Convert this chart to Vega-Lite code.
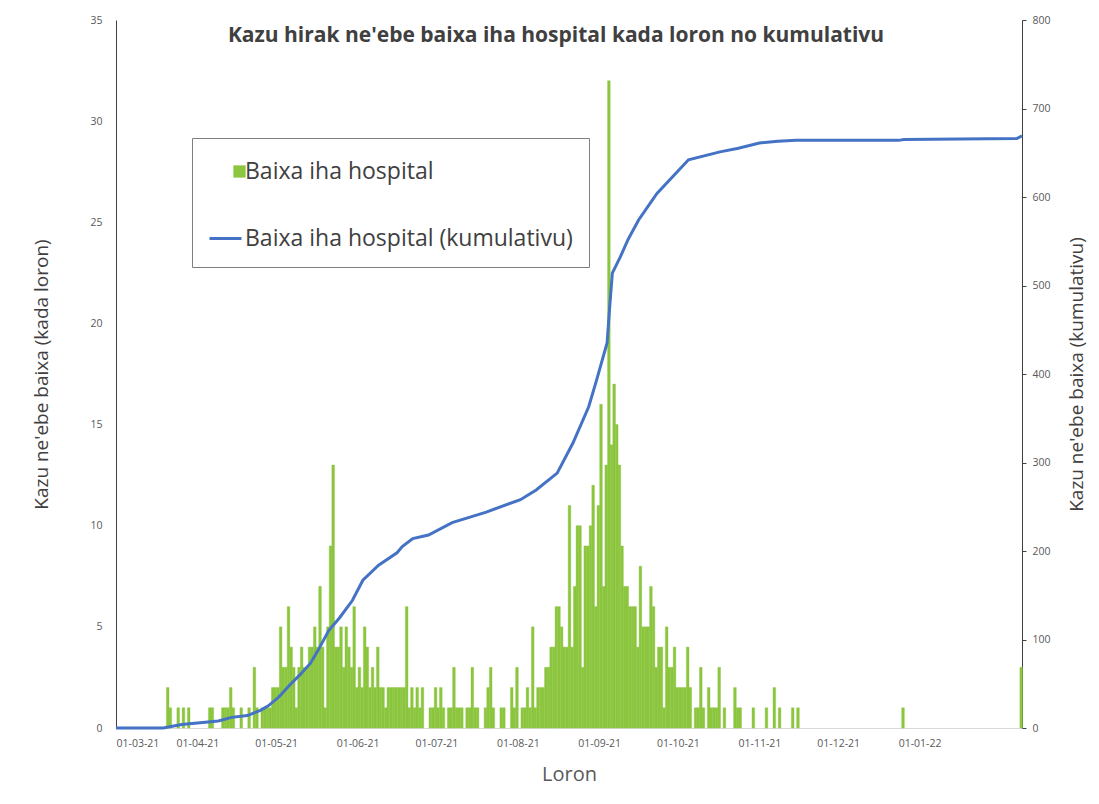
{
  "$schema": "https://vega.github.io/schema/vega-lite/v6.json",
  "width": 906,
  "height": 708,
  "autosize": "none",
  "padding": {"left": 116, "top": 20, "right": 77, "bottom": 76},
  "background": "white",
  "config": {"view": {"stroke": null}, "font": "Open Sans"},
  "title": {
    "text": "Kazu hirak ne'ebe baixa iha hospital kada loron no kumulativu",
    "fontSize": 21, "fontWeight": "bold", "color": "#404040", "font": "Open Sans",
    "anchor": "middle", "frame": "group", "offset": -31, "dx": -13
  },
  "datasets": {
    "daily": [
      {"date": "2021-03-20", "n": 2}, {"date": "2021-03-21", "n": 1}, {"date": "2021-03-24", "n": 1}, {"date": "2021-03-26", "n": 1}, {"date": "2021-03-28", "n": 1},
      {"date": "2021-04-05", "n": 1}, {"date": "2021-04-06", "n": 1}, {"date": "2021-04-10", "n": 1}, {"date": "2021-04-11", "n": 1}, {"date": "2021-04-12", "n": 1},
      {"date": "2021-04-13", "n": 2}, {"date": "2021-04-14", "n": 1}, {"date": "2021-04-17", "n": 1}, {"date": "2021-04-20", "n": 1}, {"date": "2021-04-22", "n": 3},
      {"date": "2021-04-23", "n": 1}, {"date": "2021-04-25", "n": 1}, {"date": "2021-04-26", "n": 1}, {"date": "2021-04-27", "n": 1}, {"date": "2021-04-28", "n": 1},
      {"date": "2021-04-29", "n": 2}, {"date": "2021-04-30", "n": 2},
      {"date": "2021-05-01", "n": 2}, {"date": "2021-05-02", "n": 5}, {"date": "2021-05-03", "n": 3}, {"date": "2021-05-04", "n": 3}, {"date": "2021-05-05", "n": 6},
      {"date": "2021-05-06", "n": 4}, {"date": "2021-05-07", "n": 3}, {"date": "2021-05-08", "n": 1}, {"date": "2021-05-09", "n": 3}, {"date": "2021-05-10", "n": 4},
      {"date": "2021-05-11", "n": 3}, {"date": "2021-05-12", "n": 3}, {"date": "2021-05-13", "n": 4}, {"date": "2021-05-14", "n": 4}, {"date": "2021-05-15", "n": 5},
      {"date": "2021-05-16", "n": 4}, {"date": "2021-05-17", "n": 7}, {"date": "2021-05-18", "n": 4}, {"date": "2021-05-19", "n": 1}, {"date": "2021-05-20", "n": 5},
      {"date": "2021-05-21", "n": 9}, {"date": "2021-05-22", "n": 13}, {"date": "2021-05-23", "n": 4}, {"date": "2021-05-24", "n": 4}, {"date": "2021-05-25", "n": 5},
      {"date": "2021-05-26", "n": 3}, {"date": "2021-05-27", "n": 5}, {"date": "2021-05-28", "n": 4}, {"date": "2021-05-29", "n": 3}, {"date": "2021-05-30", "n": 6},
      {"date": "2021-05-31", "n": 2},
      {"date": "2021-06-01", "n": 3}, {"date": "2021-06-02", "n": 2}, {"date": "2021-06-03", "n": 5}, {"date": "2021-06-04", "n": 4}, {"date": "2021-06-05", "n": 2},
      {"date": "2021-06-06", "n": 3}, {"date": "2021-06-07", "n": 2}, {"date": "2021-06-08", "n": 4}, {"date": "2021-06-09", "n": 2}, {"date": "2021-06-10", "n": 2},
      {"date": "2021-06-11", "n": 1}, {"date": "2021-06-12", "n": 2}, {"date": "2021-06-13", "n": 2}, {"date": "2021-06-14", "n": 2}, {"date": "2021-06-15", "n": 2},
      {"date": "2021-06-16", "n": 2}, {"date": "2021-06-17", "n": 2}, {"date": "2021-06-18", "n": 2}, {"date": "2021-06-19", "n": 6}, {"date": "2021-06-20", "n": 1},
      {"date": "2021-06-21", "n": 2}, {"date": "2021-06-22", "n": 1}, {"date": "2021-06-23", "n": 2}, {"date": "2021-06-24", "n": 1}, {"date": "2021-06-25", "n": 2},
      {"date": "2021-06-28", "n": 1}, {"date": "2021-06-29", "n": 1}, {"date": "2021-06-30", "n": 2},
      {"date": "2021-07-01", "n": 1}, {"date": "2021-07-02", "n": 2}, {"date": "2021-07-03", "n": 1}, {"date": "2021-07-05", "n": 1}, {"date": "2021-07-06", "n": 1},
      {"date": "2021-07-07", "n": 3}, {"date": "2021-07-08", "n": 1}, {"date": "2021-07-09", "n": 1}, {"date": "2021-07-10", "n": 1}, {"date": "2021-07-12", "n": 1},
      {"date": "2021-07-13", "n": 1}, {"date": "2021-07-14", "n": 3}, {"date": "2021-07-15", "n": 1}, {"date": "2021-07-16", "n": 1}, {"date": "2021-07-19", "n": 1},
      {"date": "2021-07-20", "n": 2}, {"date": "2021-07-21", "n": 3}, {"date": "2021-07-22", "n": 1}, {"date": "2021-07-25", "n": 1}, {"date": "2021-07-26", "n": 1},
      {"date": "2021-07-29", "n": 2}, {"date": "2021-07-30", "n": 1}, {"date": "2021-07-31", "n": 3},
      {"date": "2021-08-02", "n": 1}, {"date": "2021-08-03", "n": 1}, {"date": "2021-08-04", "n": 2}, {"date": "2021-08-05", "n": 1}, {"date": "2021-08-06", "n": 5},
      {"date": "2021-08-07", "n": 1}, {"date": "2021-08-08", "n": 2}, {"date": "2021-08-09", "n": 2}, {"date": "2021-08-10", "n": 2}, {"date": "2021-08-11", "n": 3},
      {"date": "2021-08-12", "n": 3}, {"date": "2021-08-13", "n": 4}, {"date": "2021-08-14", "n": 4}, {"date": "2021-08-15", "n": 6}, {"date": "2021-08-16", "n": 6},
      {"date": "2021-08-17", "n": 5}, {"date": "2021-08-18", "n": 4}, {"date": "2021-08-19", "n": 4}, {"date": "2021-08-20", "n": 11}, {"date": "2021-08-21", "n": 4},
      {"date": "2021-08-22", "n": 7}, {"date": "2021-08-23", "n": 10}, {"date": "2021-08-24", "n": 10}, {"date": "2021-08-25", "n": 3}, {"date": "2021-08-26", "n": 9},
      {"date": "2021-08-27", "n": 9}, {"date": "2021-08-28", "n": 10}, {"date": "2021-08-29", "n": 12}, {"date": "2021-08-30", "n": 6}, {"date": "2021-08-31", "n": 11},
      {"date": "2021-09-01", "n": 16}, {"date": "2021-09-02", "n": 7}, {"date": "2021-09-03", "n": 13}, {"date": "2021-09-04", "n": 32}, {"date": "2021-09-05", "n": 14},
      {"date": "2021-09-06", "n": 17}, {"date": "2021-09-07", "n": 15}, {"date": "2021-09-08", "n": 13}, {"date": "2021-09-09", "n": 9}, {"date": "2021-09-10", "n": 7},
      {"date": "2021-09-11", "n": 7}, {"date": "2021-09-12", "n": 6}, {"date": "2021-09-13", "n": 6}, {"date": "2021-09-14", "n": 6}, {"date": "2021-09-15", "n": 4},
      {"date": "2021-09-16", "n": 8}, {"date": "2021-09-17", "n": 5}, {"date": "2021-09-18", "n": 5}, {"date": "2021-09-19", "n": 5}, {"date": "2021-09-20", "n": 7},
      {"date": "2021-09-21", "n": 6}, {"date": "2021-09-22", "n": 3}, {"date": "2021-09-23", "n": 4}, {"date": "2021-09-24", "n": 4}, {"date": "2021-09-25", "n": 1},
      {"date": "2021-09-26", "n": 5}, {"date": "2021-09-27", "n": 3}, {"date": "2021-09-28", "n": 3}, {"date": "2021-09-29", "n": 4}, {"date": "2021-09-30", "n": 2},
      {"date": "2021-10-01", "n": 2}, {"date": "2021-10-02", "n": 2}, {"date": "2021-10-03", "n": 2}, {"date": "2021-10-04", "n": 4}, {"date": "2021-10-05", "n": 2},
      {"date": "2021-10-07", "n": 1}, {"date": "2021-10-08", "n": 1}, {"date": "2021-10-09", "n": 3}, {"date": "2021-10-10", "n": 1}, {"date": "2021-10-12", "n": 2},
      {"date": "2021-10-13", "n": 1}, {"date": "2021-10-14", "n": 1}, {"date": "2021-10-15", "n": 1}, {"date": "2021-10-16", "n": 3}, {"date": "2021-10-18", "n": 1},
      {"date": "2021-10-22", "n": 2}, {"date": "2021-10-23", "n": 1}, {"date": "2021-10-24", "n": 1}, {"date": "2021-10-29", "n": 1},
      {"date": "2021-11-03", "n": 1}, {"date": "2021-11-06", "n": 2}, {"date": "2021-11-08", "n": 1}, {"date": "2021-11-13", "n": 1}, {"date": "2021-11-15", "n": 1},
      {"date": "2021-12-25", "n": 1},
      {"date": "2022-02-08", "n": 3}
    ],
    "cumulative": [
      {"date": "2021-03-01", "cum": 0}, {"date": "2021-03-19", "cum": 0}, {"date": "2021-03-26", "cum": 4}, {"date": "2021-04-02", "cum": 6},
      {"date": "2021-04-09", "cum": 8}, {"date": "2021-04-14", "cum": 12}, {"date": "2021-04-20", "cum": 14}, {"date": "2021-04-25", "cum": 20},
      {"date": "2021-04-28", "cum": 25}, {"date": "2021-05-02", "cum": 35}, {"date": "2021-05-06", "cum": 48}, {"date": "2021-05-10", "cum": 60},
      {"date": "2021-05-14", "cum": 73}, {"date": "2021-05-17", "cum": 88}, {"date": "2021-05-21", "cum": 110}, {"date": "2021-05-25", "cum": 124},
      {"date": "2021-05-30", "cum": 144}, {"date": "2021-06-03", "cum": 167}, {"date": "2021-06-09", "cum": 184}, {"date": "2021-06-16", "cum": 198},
      {"date": "2021-06-18", "cum": 205}, {"date": "2021-06-22", "cum": 214}, {"date": "2021-06-28", "cum": 218}, {"date": "2021-07-07", "cum": 232},
      {"date": "2021-07-20", "cum": 244}, {"date": "2021-08-02", "cum": 258}, {"date": "2021-08-08", "cum": 269}, {"date": "2021-08-16", "cum": 288},
      {"date": "2021-08-22", "cum": 322}, {"date": "2021-08-28", "cum": 363}, {"date": "2021-08-31", "cum": 393}, {"date": "2021-09-04", "cum": 435},
      {"date": "2021-09-05", "cum": 476}, {"date": "2021-09-06", "cum": 514}, {"date": "2021-09-09", "cum": 532}, {"date": "2021-09-12", "cum": 552},
      {"date": "2021-09-16", "cum": 574}, {"date": "2021-09-23", "cum": 604}, {"date": "2021-10-05", "cum": 642}, {"date": "2021-10-17", "cum": 651},
      {"date": "2021-10-24", "cum": 655}, {"date": "2021-11-01", "cum": 661}, {"date": "2021-11-08", "cum": 663}, {"date": "2021-11-15", "cum": 664},
      {"date": "2021-12-24", "cum": 664}, {"date": "2021-12-26", "cum": 665}, {"date": "2022-02-07", "cum": 666}, {"date": "2022-02-09", "cum": 669}
    ]
  },
  "layer": [
    {
      "data": {"name": "daily"},
      "mark": {"type": "bar", "color": "#8cc63f", "binSpacing": 0, "stroke": "#8cc63f", "strokeWidth": 0.4},
      "encoding": {
        "x": {
          "field": "date", "type": "temporal", "timeUnit": "utcyearmonthdate", "title": "Loron",
          "scale": {"type": "utc", "domain": [{"year": 2021, "month": 3, "date": 1, "utc": true}, {"year": 2022, "month": 2, "date": 9, "utc": true}]},
          "axis": {
            "labelExpr": "utcFormat(datum.value, '%d-%m-%y')",
            "values": [
              {"year": 2021, "month": 3, "date": 1, "utc": true}, {"year": 2021, "month": 4, "date": 1, "utc": true},
              {"year": 2021, "month": 5, "date": 1, "utc": true}, {"year": 2021, "month": 6, "date": 1, "utc": true},
              {"year": 2021, "month": 7, "date": 1, "utc": true}, {"year": 2021, "month": 8, "date": 1, "utc": true},
              {"year": 2021, "month": 9, "date": 1, "utc": true}, {"year": 2021, "month": 10, "date": 1, "utc": true},
              {"year": 2021, "month": 11, "date": 1, "utc": true}, {"year": 2021, "month": 12, "date": 1, "utc": true},
              {"year": 2022, "month": 1, "date": 1, "utc": true}
            ],
            "labelFontSize": 10.5, "labelColor": "#595959", "labelFont": "Open Sans", "labelPadding": 10,
            "domainColor": "#d9d9d9", "ticks": false, "grid": false, "labelOverlap": false,
            "titleFontSize": 20, "titleColor": "#595959", "titleFontWeight": "normal", "titleFont": "Open Sans", "titlePadding": 16
          }
        },
        "y": {
          "field": "n", "type": "quantitative", "title": "Kazu ne'ebe baixa (kada loron)",
          "scale": {"domain": [0, 35]},
          "axis": {
            "values": [0, 5, 10, 15, 20, 25, 30, 35], "grid": false, "ticks": false,
            "domainColor": "#404040", "labelFontSize": 10.5, "labelColor": "#595959", "labelPadding": 14,
            "titleFontSize": 19, "titleColor": "#404040", "titleFontWeight": "normal", "titlePadding": 38
          }
        },
        "fill": {
          "datum": "Baixa iha hospital",
          "scale": {"domain": ["Baixa iha hospital"], "range": ["#8cc63f"]},
          "legend": {
            "orient": "none", "legendX": 117, "legendY": 145, "title": null, "padding": 0, "zindex": 5,
            "symbolType": "square", "symbolSize": 150, "symbolStrokeWidth": 0,
            "labelExpr": "''", "labelFontSize": 1, "labelOffset": 0
          }
        }
      }
    },
    {
      "data": {"name": "cumulative"},
      "mark": {"type": "line", "strokeWidth": 3},
      "encoding": {
        "x": {"field": "date", "type": "temporal"},
        "y": {
          "field": "cum", "type": "quantitative", "title": "Kazu ne'ebe baixa (kumulativu)",
          "scale": {"domain": [0, 800]},
          "axis": {
            "orient": "right", "values": [0, 100, 200, 300, 400, 500, 600, 700, 800], "grid": false,
            "ticks": true, "tickSize": 4, "tickColor": "#404040", "domainColor": "#404040",
            "labelFontSize": 10.5, "labelColor": "#595959", "labelPadding": 6,
            "titleFontSize": 19, "titleColor": "#404040", "titleFontWeight": "normal", "titlePadding": 36, "titleAngle": 270
          }
        },
        "stroke": {
          "datum": "Baixa iha hospital (kumulativu)",
          "scale": {"domain": ["Baixa iha hospital", "Baixa iha hospital (kumulativu)"], "range": ["transparent", "#4472c4"]},
          "legend": {
            "orient": "none", "legendX": 76, "legendY": 118, "title": null, "zindex": 1,
            "strokeColor": "#7f7f7f", "fillColor": "white", "padding": 16,
            "labelFontSize": 23, "labelColor": "#404040", "labelFont": "Open Sans", "labelLimit": 600, "labelOffset": 2,
            "rowPadding": 37, "symbolType": "stroke", "symbolSize": 1024, "symbolStrokeWidth": 3
          }
        }
      }
    }
  ],
  "resolve": {"scale": {"y": "independent"}}
}
